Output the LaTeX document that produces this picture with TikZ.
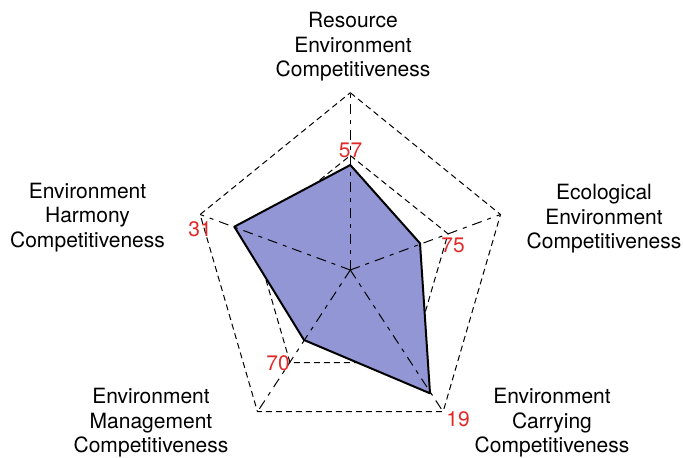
\documentclass[tikz,border=0pt]{standalone}
\usepackage{fontspec}
\setmainfont{TeX Gyre Heros}
\usepackage{tikz}
\usetikzlibrary{positioning}
\definecolor{areablue}{RGB}{146,150,212}
\definecolor{valred}{RGB}{228,40,40}

\begin{document}
\begin{tikzpicture}[x=0.5pt,y=-0.5pt,
    grid line/.style={dash pattern=on 3pt off 2pt,line width=0.5pt},
    spoke line/.style={dash pattern=on 5pt off 3pt on 2pt off 3pt,line width=0.5pt},
    axis label/.style={align=center,inner sep=0pt,font=\fontsize{10.5}{12.25}\selectfont},
    value label/.style={anchor=base,inner sep=0pt,text=valred,font=\fontsize{10.5}{12.25}\selectfont}]
   \useasboundingbox (0,0) rectangle (683,457);
   \begin{scope}
      \coordinate (c) at (350.3,270);
      % outer ring
      \coordinate (o1) at (350.3,92.7);
      \coordinate (o2) at (500.5,214.5);
      \coordinate (o3) at (443.1,411.7);
      \coordinate (o4) at (257.5,411.7);
      \coordinate (o5) at (200.1,214.5);
      % inner ring
      \coordinate (i1) at (350.3,155.5);
      \coordinate (i2) at (448.0,233.8);
      \coordinate (i3) at (410.6,362.5);
      \coordinate (i4) at (290.0,362.5);
      \coordinate (i5) at (252.6,233.8);
      % values
      \coordinate (d1) at (350.3,165);
      \coordinate (d2) at (420,243.3);
      \coordinate (d3) at (430,393.3);
      \coordinate (d4) at (304,340);
      \coordinate (d5) at (234.3,226.7);

      \draw[grid line] (i1) -- (i2) -- (i3) -- (i4) -- (i5) -- cycle;
      \draw[grid line] (o1) -- (o2) -- (o3) -- (o4) -- (o5) -- cycle;
      \fill[areablue] (d1) -- (d2) -- (d3) -- (d4) -- (d5) -- cycle;
      \path[spoke line] (c) edge (o1) (c) edge (o2) (c) edge (o3) (c) edge (o4) (c) edge (o5);
      \draw[line width=1pt,line join=round] (d1) -- (d2) -- (d3) -- (d4) -- (d5) -- cycle;

      \node[axis label] (resource) at (353,46.8) {Resource\\Environment\\Competitiveness};
      \node[axis label] (ecological) at (604,218.8) {Ecological\\Environment\\Competitiveness};
      \node[axis label] (carrying) at (552,422.8) {Environment\\Carrying\\Competitiveness};
      \node[axis label] (management) at (151,422.8) {Environment\\Management\\Competitiveness};
      \node[axis label] (harmony) at (87.5,217.3) {Environment\\Harmony\\Competitiveness};

      \node[value label] (v1) at (350.5,157.7) {57};
      \node[value label] (v2) at (453,252.7) {75};
      \node[value label] (v3) at (458,426.7) {19};
      \node[value label] (v4) at (278,370.7) {70};
      \node[value label] (v5) at (200,236.7) {31};
   \end{scope}
\end{tikzpicture}
\end{document}
